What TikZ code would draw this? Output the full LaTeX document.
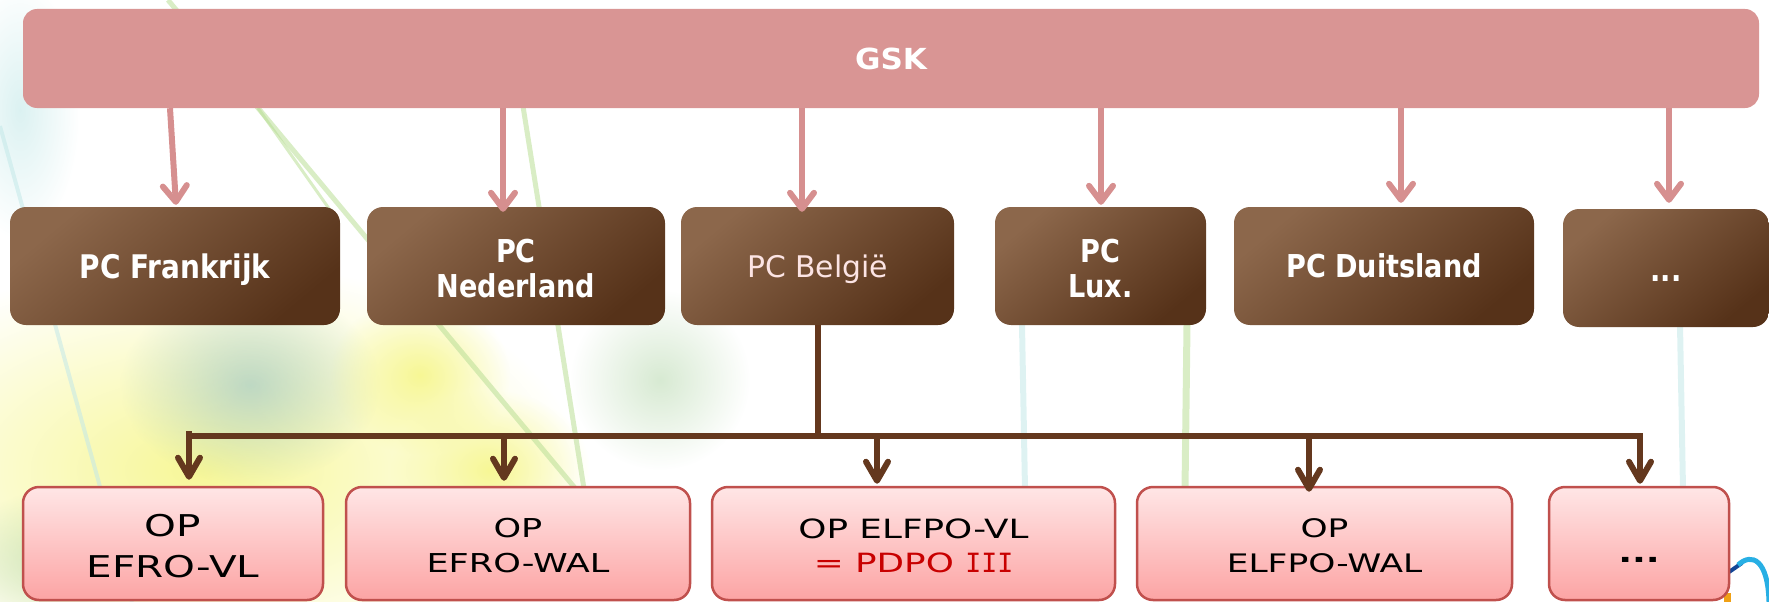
\documentclass[tikz,border=0pt]{standalone}
\usepackage{fontspec}
\setmainfont{DejaVu Sans}
\newfontfamily\pcfont[FakeStretch=0.86]{DejaVu Sans}
\newfontfamily\gskfont[FakeStretch=1.07]{DejaVu Sans}
\newfontfamily\opfont[FakeStretch=1.35]{DejaVu Sans}
\newfontfamily\opserifI{DejaVu Sans Mono}
\usetikzlibrary{arrows.meta,fadings}

\definecolor{gskpink}{RGB}{217,149,148}
\definecolor{arrpink}{RGB}{214,143,143}
\definecolor{brlight}{RGB}{140,103,75}
\definecolor{brdark}{RGB}{86,50,25}
\definecolor{brline}{RGB}{100,56,30}
\definecolor{optop}{RGB}{255,230,230}
\definecolor{opbot}{RGB}{252,164,164}
\definecolor{opborder}{RGB}{192,80,77}
\definecolor{pdpored}{RGB}{200,0,0}
\definecolor{belg}{RGB}{252,228,228}
\definecolor{bgyellow}{RGB}{246,246,140}
\definecolor{bggreen}{RGB}{175,212,165}
\definecolor{bgteal}{RGB}{170,205,195}
\definecolor{bggrass}{RGB}{185,222,150}
\definecolor{bgcyan}{RGB}{195,232,232}
\definecolor{logocyan}{RGB}{40,175,228}
\definecolor{logoblue}{RGB}{20,70,150}
\definecolor{logoorange}{RGB}{240,160,20}

\newcommand{\lowerby}[1]{\rule{0pt}{#1}}

\tikzfading[name=softblob, inner color=transparent!0, outer color=transparent!100]

\tikzset{
  gskbox/.style={rectangle, rounded corners=14pt, fill=gskpink, inner sep=0pt,
    text=white, font={\gskfont\bfseries\fontsize{29}{34}\selectfont}},
  pcbox/.style={rectangle, rounded corners=16pt, top color=brlight, bottom color=brdark,
    shading angle=40, inner sep=0pt, minimum height=118pt, text=white, align=center},
  opbox/.style={rectangle, rounded corners=16pt, top color=optop, bottom color=opbot,
    draw=opborder, line width=2.5pt, inner sep=0pt, minimum height=113pt,
    text=black, align=center},
  parrow/.style={draw=arrpink, line width=6pt, -{Straight Barb[length=16pt, width=24pt, round]}},
  brconn/.style={draw=brline, line width=6pt},
  brarrow/.style={draw=brline, line width=6pt, -{Straight Barb[length=19pt, width=22pt, round]}},
  blob/.style={path fading=softblob},
  grass/.style={line width=5pt, opacity=0.55}
}

\begin{document}
\begin{tikzpicture}[x=1pt, y=-1pt]
\useasboundingbox (0,0) rectangle (1769,602);

% background photo impression
\fill[bgyellow, blob, opacity=0.9] (200,470) ellipse [x radius=380, y radius=210];
\fill[bgteal, blob, opacity=0.75] (250,385) ellipse [x radius=130, y radius=100];
\fill[bgyellow, blob, opacity=0.9] (420,375) ellipse [x radius=90, y radius=80];
\fill[bgyellow, blob, opacity=0.9] (490,470) ellipse [x radius=100, y radius=80];
\fill[bggreen, blob, opacity=0.5] (660,380) ellipse [x radius=90, y radius=90];
\fill[bggreen, blob, opacity=0.6] (60,560) ellipse [x radius=110, y radius=70];
\fill[bgcyan, blob, opacity=0.6] (20,110) ellipse [x radius=60, y radius=130];
\draw[grass, bggrass] (168,0) -- (585,500);
\draw[grass, bgcyan, line width=4pt] (0,126) -- (132,602);
\draw[grass, bggrass] (522,100) -- (585,495);
\draw[grass, bggrass, line width=3pt] (258,108) -- (330,210);
\draw[grass, bgcyan, line width=6pt] (1022,325) -- (1025,490);
\draw[grass, bggrass, line width=7pt] (1187,325) -- (1185,490);
\draw[grass, bgcyan, line width=6pt] (1680,325) -- (1683,490);

% bottom-right logo fragment
\draw[logoblue, line width=4pt] (1729,572) -- (1742,563);
\draw[logocyan, line width=5pt] (1738,565) .. controls (1752,552) and (1768,560) .. (1769,602);
\fill[logoorange] (1724,593) rectangle (1731,602);

% top box
\node[gskbox, minimum width=1736pt, minimum height=99pt] (gsk) at (891,58.5) {GSK};

% second row
\node[pcbox, minimum width=330pt, text depth=0pt, font={\pcfont\bfseries\fontsize{32.5}{35}\selectfont}] (pc1) at (175,266) {PC Frankrijk};
\node[pcbox, minimum width=298pt, font={\pcfont\bfseries\fontsize{31.5}{35}\selectfont}] (pc2) at (516,266) {\lowerby{29pt}PC\\Nederland};
\node[pcbox, minimum width=273pt, text=belg, text depth=0pt, font={\fontsize{29.8}{35}\selectfont}] (pc3) at (817.5,266) {PC België};
\node[pcbox, minimum width=211pt, font={\pcfont\bfseries\fontsize{31.5}{35}\selectfont}] (pc4) at (1100.5,266) {\lowerby{29pt}PC\\Lux.};
\node[pcbox, minimum width=300pt, text depth=0pt, font={\pcfont\bfseries\fontsize{31.5}{35}\selectfont}] (pc5) at (1384,266) {PC Duitsland};
\node[pcbox, minimum width=206pt, text height=26pt, text depth=0pt, font={\pcfont\bfseries\fontsize{31.5}{35}\selectfont}] (pc6) at (1666,268) {...};

% third row
\node[opbox, minimum width=300pt, font={\opfont\fontsize{30}{41}\selectfont}] (op1) at (173,543.5) {\lowerby{27pt}OP\\EFRO-VL};
\node[opbox, minimum width=344pt, font={\opfont\fontsize{26}{35}\selectfont}] (op2) at (518,543.5) {\lowerby{24pt}OP\\EFRO-WAL};
\node[opbox, minimum width=403pt, font={\opfont\fontsize{26.5}{34}\selectfont}] (op3) at (913.5,543.5) {\lowerby{24pt}OP ELFPO-VL\\\textcolor{pdpored}{= PDPO {\opserifI III}}};
\node[opbox, minimum width=375pt, font={\opfont\fontsize{25.5}{35}\selectfont}] (op4) at (1324.5,543.5) {\lowerby{24pt}OP\\ELFPO-WAL};
\node[opbox, minimum width=180pt, text height=37pt, text depth=0pt, font={\opfont\bfseries\fontsize{27}{35}\selectfont}] (op5) at (1639,543.5) {...};

% pink arrows GSK -> PC
\coordinate (t1) at ([xshift=1pt, yshift=2pt]pc1.north);
\coordinate (t2) at ([xshift=-13pt, yshift=-5pt]pc2.north);
\coordinate (t3) at ([xshift=-15.5pt, yshift=-5pt]pc3.north);
\coordinate (t4) at ([xshift=0.5pt, yshift=2pt]pc4.north);
\coordinate (t5) at ([xshift=17pt, yshift=4pt]pc5.north);
\coordinate (t6) at ([xshift=3pt, yshift=6pt]pc6.north);
\path (t1 |- gsk.south) ++(-6,0) coordinate (s1);
\draw[parrow] (s1) -- (t1);
\draw[parrow] (t2 |- gsk.south) -- (t2);
\draw[parrow] (t3 |- gsk.south) -- (t3);
\draw[parrow] (t4 |- gsk.south) -- (t4);
\draw[parrow] (t5 |- gsk.south) -- (t5);
\draw[parrow] (t6 |- gsk.south) -- (t6);

% brown connectors Belgie -> OP
\coordinate (j) at ([yshift=-111pt]pc3.south);
\coordinate (e1) at ([xshift=16pt, yshift=6pt]op1.north);
\coordinate (e2) at ([xshift=-14pt, yshift=5pt]op2.north);
\coordinate (e3) at ([xshift=-36.5pt, yshift=2pt]op3.north);
\coordinate (e4) at ([xshift=-15.5pt, yshift=-6pt]op4.north);
\coordinate (e5) at ([xshift=1pt, yshift=2pt]op5.north);
\coordinate (b1) at (e1 |- j);
\coordinate (b2) at (e2 |- j);
\coordinate (b3) at (e3 |- j);
\coordinate (b4) at (e4 |- j);
\coordinate (b5) at (e5 |- j);
\draw[brconn] (pc3.south) -- (j);
\draw[brconn] (b1) -- (b5);
\draw[brarrow] ([yshift=5pt]b1) -- (e1);
\draw[brarrow] ([yshift=3pt]b2) -- (e2);
\draw[brarrow] (b3) -- (e3);
\draw[brarrow] ([yshift=3pt]b4) -- (e4);
\draw[brarrow] ([yshift=3pt]b5) -- (e5);
\end{tikzpicture}
\end{document}
